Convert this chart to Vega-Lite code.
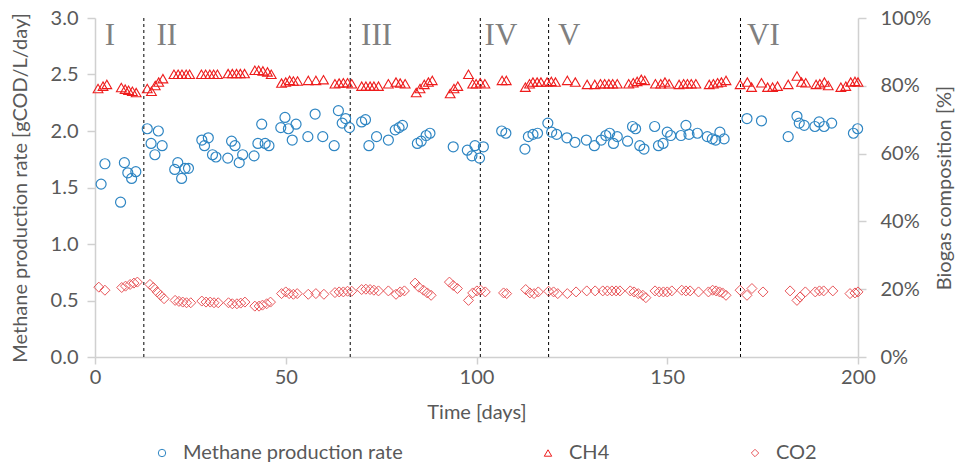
{
 "$schema": "https://vega.github.io/schema/vega-lite/v6.json",
 "width": 763,
 "height": 339,
 "autosize": "none",
 "padding": {"left": 95, "top": 18, "right": 98, "bottom": 108},
 "background": "white",
 "config": {
  "view": {"stroke": null},
  "font": "Lato",
  "axis": {"grid": false, "domainColor": "#d0d0d0", "tickColor": "#d0d0d0", "domainWidth": 1.5, "tickWidth": 1.5, "tickSize": 8, "labelColor": "#595959", "titleColor": "#595959", "labelFont": "Lato", "titleFont": "Lato", "labelFontSize": 20, "titleFontSize": 20, "titleFontWeight": "normal", "labelFlush": false, "labelOverlap": false}
 },
 "datasets": {
  "methane": [
   {"s":"Methane production rate","d":1.6,"v":1.53},{"s":"Methane production rate","d":2.6,"v":1.71},{"s":"Methane production rate","d":6.7,"v":1.37},{"s":"Methane production rate","d":7.7,"v":1.72},{"s":"Methane production rate","d":8.6,"v":1.63},{"s":"Methane production rate","d":9.6,"v":1.58},{"s":"Methane production rate","d":10.7,"v":1.64},
   {"s":"Methane production rate","d":13.7,"v":2.02},{"s":"Methane production rate","d":14.7,"v":1.89},{"s":"Methane production rate","d":15.7,"v":1.79},{"s":"Methane production rate","d":16.6,"v":2.0},{"s":"Methane production rate","d":17.6,"v":1.87},
   {"s":"Methane production rate","d":20.9,"v":1.66},{"s":"Methane production rate","d":21.7,"v":1.72},{"s":"Methane production rate","d":22.7,"v":1.58},{"s":"Methane production rate","d":23.6,"v":1.67},{"s":"Methane production rate","d":24.5,"v":1.67},
   {"s":"Methane production rate","d":28.0,"v":1.92},{"s":"Methane production rate","d":28.7,"v":1.87},{"s":"Methane production rate","d":29.7,"v":1.94},{"s":"Methane production rate","d":30.8,"v":1.79},{"s":"Methane production rate","d":31.7,"v":1.77},
   {"s":"Methane production rate","d":34.8,"v":1.76},{"s":"Methane production rate","d":35.8,"v":1.91},{"s":"Methane production rate","d":36.7,"v":1.87},{"s":"Methane production rate","d":37.8,"v":1.72},{"s":"Methane production rate","d":38.7,"v":1.79},
   {"s":"Methane production rate","d":41.7,"v":1.78},{"s":"Methane production rate","d":42.7,"v":1.89},{"s":"Methane production rate","d":43.7,"v":2.06},{"s":"Methane production rate","d":44.6,"v":1.89},{"s":"Methane production rate","d":45.6,"v":1.87},
   {"s":"Methane production rate","d":48.7,"v":2.03},{"s":"Methane production rate","d":49.8,"v":2.12},{"s":"Methane production rate","d":50.7,"v":2.02},{"s":"Methane production rate","d":51.7,"v":1.92},{"s":"Methane production rate","d":52.7,"v":2.06},
   {"s":"Methane production rate","d":55.8,"v":1.95},{"s":"Methane production rate","d":57.7,"v":2.15},{"s":"Methane production rate","d":59.7,"v":1.95},{"s":"Methane production rate","d":62.7,"v":1.87},{"s":"Methane production rate","d":63.8,"v":2.18},{"s":"Methane production rate","d":64.8,"v":2.07},{"s":"Methane production rate","d":65.7,"v":2.11},{"s":"Methane production rate","d":66.7,"v":2.03},
   {"s":"Methane production rate","d":69.9,"v":2.08},{"s":"Methane production rate","d":70.9,"v":2.1},{"s":"Methane production rate","d":71.8,"v":1.87},{"s":"Methane production rate","d":73.8,"v":1.95},{"s":"Methane production rate","d":76.9,"v":1.92},{"s":"Methane production rate","d":78.7,"v":2.01},{"s":"Methane production rate","d":79.7,"v":2.03},{"s":"Methane production rate","d":80.6,"v":2.05},
   {"s":"Methane production rate","d":84.5,"v":1.89},{"s":"Methane production rate","d":85.5,"v":1.91},{"s":"Methane production rate","d":86.8,"v":1.96},{"s":"Methane production rate","d":87.8,"v":1.98},
   {"s":"Methane production rate","d":93.9,"v":1.86},{"s":"Methane production rate","d":97.6,"v":1.83},{"s":"Methane production rate","d":98.8,"v":1.78},{"s":"Methane production rate","d":99.6,"v":1.87},{"s":"Methane production rate","d":100.8,"v":1.76},{"s":"Methane production rate","d":101.8,"v":1.86},
   {"s":"Methane production rate","d":106.6,"v":2.0},{"s":"Methane production rate","d":107.7,"v":1.98},{"s":"Methane production rate","d":112.7,"v":1.84},{"s":"Methane production rate","d":113.6,"v":1.95},{"s":"Methane production rate","d":114.8,"v":1.97},{"s":"Methane production rate","d":116.0,"v":1.98},
   {"s":"Methane production rate","d":118.7,"v":2.07},{"s":"Methane production rate","d":119.7,"v":1.99},{"s":"Methane production rate","d":121.0,"v":1.97},{"s":"Methane production rate","d":123.7,"v":1.94},{"s":"Methane production rate","d":125.8,"v":1.9},{"s":"Methane production rate","d":128.8,"v":1.92},{"s":"Methane production rate","d":130.9,"v":1.87},
   {"s":"Methane production rate","d":132.7,"v":1.92},{"s":"Methane production rate","d":133.9,"v":1.96},{"s":"Methane production rate","d":134.9,"v":1.98},{"s":"Methane production rate","d":135.9,"v":1.89},{"s":"Methane production rate","d":136.9,"v":1.95},
   {"s":"Methane production rate","d":139.6,"v":1.91},{"s":"Methane production rate","d":140.9,"v":2.04},{"s":"Methane production rate","d":141.7,"v":2.02},{"s":"Methane production rate","d":142.8,"v":1.87},{"s":"Methane production rate","d":143.9,"v":1.84},
   {"s":"Methane production rate","d":146.7,"v":2.04},{"s":"Methane production rate","d":147.7,"v":1.87},{"s":"Methane production rate","d":148.9,"v":1.89},{"s":"Methane production rate","d":150.0,"v":1.99},{"s":"Methane production rate","d":150.9,"v":1.96},
   {"s":"Methane production rate","d":153.6,"v":1.96},{"s":"Methane production rate","d":154.9,"v":2.05},{"s":"Methane production rate","d":155.7,"v":1.97},{"s":"Methane production rate","d":157.9,"v":1.98},
   {"s":"Methane production rate","d":160.5,"v":1.95},{"s":"Methane production rate","d":161.8,"v":1.93},{"s":"Methane production rate","d":162.7,"v":1.92},{"s":"Methane production rate","d":163.8,"v":1.99},{"s":"Methane production rate","d":164.9,"v":1.93},
   {"s":"Methane production rate","d":170.9,"v":2.11},{"s":"Methane production rate","d":174.7,"v":2.09},{"s":"Methane production rate","d":181.7,"v":1.95},{"s":"Methane production rate","d":184.0,"v":2.13},{"s":"Methane production rate","d":184.6,"v":2.07},{"s":"Methane production rate","d":185.9,"v":2.05},
   {"s":"Methane production rate","d":188.7,"v":2.04},{"s":"Methane production rate","d":189.8,"v":2.08},{"s":"Methane production rate","d":191.1,"v":2.04},{"s":"Methane production rate","d":193.1,"v":2.07},{"s":"Methane production rate","d":198.8,"v":1.98},{"s":"Methane production rate","d":199.9,"v":2.02}
  ],
  "ch4": [
   {"s":"CH4","d":0.8,"v":79.2},{"s":"CH4","d":2.1,"v":79.9},{"s":"CH4","d":3.1,"v":80.4},{"s":"CH4","d":6.9,"v":79.5},{"s":"CH4","d":7.9,"v":79.0},{"s":"CH4","d":8.8,"v":78.7},{"s":"CH4","d":9.8,"v":78.4},{"s":"CH4","d":10.8,"v":78.0},
   {"s":"CH4","d":13.7,"v":79.2},{"s":"CH4","d":14.8,"v":78.4},{"s":"CH4","d":15.8,"v":80.1},{"s":"CH4","d":16.7,"v":81.1},{"s":"CH4","d":17.8,"v":82.1},
   {"s":"CH4","d":20.7,"v":83.4},{"s":"CH4","d":21.8,"v":83.4},{"s":"CH4","d":22.8,"v":83.4},{"s":"CH4","d":23.9,"v":83.4},{"s":"CH4","d":24.8,"v":83.4},
   {"s":"CH4","d":27.9,"v":83.4},{"s":"CH4","d":29.0,"v":83.4},{"s":"CH4","d":30.1,"v":83.4},{"s":"CH4","d":31.1,"v":83.4},{"s":"CH4","d":32.1,"v":83.4},
   {"s":"CH4","d":34.9,"v":83.6},{"s":"CH4","d":36.0,"v":83.6},{"s":"CH4","d":37.1,"v":83.6},{"s":"CH4","d":38.1,"v":83.6},{"s":"CH4","d":39.2,"v":83.6},
   {"s":"CH4","d":41.9,"v":84.6},{"s":"CH4","d":42.9,"v":84.6},{"s":"CH4","d":44.0,"v":84.4},{"s":"CH4","d":45.2,"v":84.1},{"s":"CH4","d":46.2,"v":83.4},
   {"s":"CH4","d":48.9,"v":80.8},{"s":"CH4","d":50.0,"v":81.1},{"s":"CH4","d":51.0,"v":81.6},{"s":"CH4","d":52.0,"v":81.4},{"s":"CH4","d":53.1,"v":81.4},
   {"s":"CH4","d":55.9,"v":81.6},{"s":"CH4","d":57.9,"v":81.6},{"s":"CH4","d":59.9,"v":81.8},
   {"s":"CH4","d":62.9,"v":80.6},{"s":"CH4","d":64.0,"v":80.8},{"s":"CH4","d":65.1,"v":80.9},{"s":"CH4","d":66.2,"v":80.9},{"s":"CH4","d":67.3,"v":80.6},
   {"s":"CH4","d":69.9,"v":79.9},{"s":"CH4","d":71.0,"v":79.9},{"s":"CH4","d":72.1,"v":79.9},{"s":"CH4","d":73.1,"v":79.9},{"s":"CH4","d":74.3,"v":79.9},
   {"s":"CH4","d":76.9,"v":80.6},{"s":"CH4","d":78.9,"v":81.1},{"s":"CH4","d":80.0,"v":80.8},{"s":"CH4","d":81.3,"v":80.6},
   {"s":"CH4","d":84.2,"v":78.0},{"s":"CH4","d":85.2,"v":79.2},{"s":"CH4","d":86.3,"v":80.4},{"s":"CH4","d":87.4,"v":81.1},{"s":"CH4","d":88.4,"v":81.6},
   {"s":"CH4","d":93.1,"v":77.7},{"s":"CH4","d":94.1,"v":79.2},{"s":"CH4","d":95.1,"v":79.9},{"s":"CH4","d":97.9,"v":83.4},{"s":"CH4","d":99.0,"v":80.6},
   {"s":"CH4","d":99.9,"v":80.6},{"s":"CH4","d":101.0,"v":80.9},{"s":"CH4","d":102.2,"v":80.6},{"s":"CH4","d":106.7,"v":81.6},{"s":"CH4","d":107.8,"v":81.6},
   {"s":"CH4","d":112.8,"v":79.6},{"s":"CH4","d":113.9,"v":80.6},{"s":"CH4","d":114.8,"v":81.1},{"s":"CH4","d":115.9,"v":81.1},{"s":"CH4","d":116.9,"v":81.1},
   {"s":"CH4","d":118.5,"v":81.1},{"s":"CH4","d":119.6,"v":81.3},{"s":"CH4","d":120.7,"v":81.1},{"s":"CH4","d":123.8,"v":81.6},{"s":"CH4","d":125.9,"v":81.1},
   {"s":"CH4","d":129.0,"v":80.4},{"s":"CH4","d":131.0,"v":80.4},{"s":"CH4","d":132.5,"v":80.6},{"s":"CH4","d":133.6,"v":80.6},{"s":"CH4","d":134.7,"v":80.6},{"s":"CH4","d":135.7,"v":80.6},{"s":"CH4","d":136.9,"v":80.6},
   {"s":"CH4","d":139.9,"v":80.6},{"s":"CH4","d":141.1,"v":80.9},{"s":"CH4","d":142.1,"v":81.3},{"s":"CH4","d":143.2,"v":81.9},{"s":"CH4","d":144.1,"v":81.6},
   {"s":"CH4","d":146.9,"v":80.6},{"s":"CH4","d":148.3,"v":80.6},{"s":"CH4","d":149.4,"v":81.1},{"s":"CH4","d":150.5,"v":80.6},
   {"s":"CH4","d":153.1,"v":80.4},{"s":"CH4","d":154.3,"v":80.6},{"s":"CH4","d":155.3,"v":80.6},{"s":"CH4","d":156.3,"v":80.6},{"s":"CH4","d":157.5,"v":80.6},
   {"s":"CH4","d":161.0,"v":80.4},{"s":"CH4","d":162.1,"v":80.6},{"s":"CH4","d":163.2,"v":80.9},{"s":"CH4","d":164.2,"v":81.1},{"s":"CH4","d":165.4,"v":81.6},
   {"s":"CH4","d":169.1,"v":80.4},{"s":"CH4","d":171.0,"v":81.1},{"s":"CH4","d":172.1,"v":79.6},{"s":"CH4","d":174.7,"v":80.9},{"s":"CH4","d":176.3,"v":79.6},{"s":"CH4","d":177.6,"v":79.6},{"s":"CH4","d":178.9,"v":79.9},
   {"s":"CH4","d":181.7,"v":80.4},{"s":"CH4","d":184.0,"v":82.9},{"s":"CH4","d":185.2,"v":81.1},{"s":"CH4","d":186.3,"v":80.9},
   {"s":"CH4","d":189.0,"v":80.4},{"s":"CH4","d":190.0,"v":80.6},{"s":"CH4","d":191.2,"v":81.1},{"s":"CH4","d":192.2,"v":80.1},
   {"s":"CH4","d":195.5,"v":79.6},{"s":"CH4","d":196.8,"v":79.9},{"s":"CH4","d":198.1,"v":81.1},{"s":"CH4","d":199.2,"v":81.3},{"s":"CH4","d":200.0,"v":81.1}
  ],
  "co2": [
   {"s":"CO2","d":1.0,"v":20.6},{"s":"CO2","d":2.6,"v":19.7},{"s":"CO2","d":7.0,"v":20.5},{"s":"CO2","d":8.0,"v":20.9},{"s":"CO2","d":9.2,"v":21.4},{"s":"CO2","d":10.2,"v":21.8},{"s":"CO2","d":11.1,"v":22.1},
   {"s":"CO2","d":14.4,"v":21.4},{"s":"CO2","d":15.3,"v":20.5},{"s":"CO2","d":16.3,"v":19.2},{"s":"CO2","d":17.2,"v":18.2},{"s":"CO2","d":18.1,"v":17.2},
   {"s":"CO2","d":21.0,"v":16.7},{"s":"CO2","d":22.0,"v":16.4},{"s":"CO2","d":23.0,"v":16.2},{"s":"CO2","d":24.0,"v":16.0},{"s":"CO2","d":25.1,"v":16.0},
   {"s":"CO2","d":28.0,"v":16.5},{"s":"CO2","d":29.1,"v":16.2},{"s":"CO2","d":30.2,"v":16.2},{"s":"CO2","d":31.2,"v":16.0},{"s":"CO2","d":32.3,"v":16.0},
   {"s":"CO2","d":35.0,"v":16.0},{"s":"CO2","d":36.0,"v":15.7},{"s":"CO2","d":37.2,"v":15.7},{"s":"CO2","d":38.2,"v":15.9},{"s":"CO2","d":39.3,"v":16.2},
   {"s":"CO2","d":41.9,"v":15.0},{"s":"CO2","d":43.0,"v":15.0},{"s":"CO2","d":43.9,"v":15.3},{"s":"CO2","d":45.0,"v":15.7},{"s":"CO2","d":46.0,"v":16.2},
   {"s":"CO2","d":48.9,"v":18.7},{"s":"CO2","d":50.0,"v":19.2},{"s":"CO2","d":50.9,"v":18.7},{"s":"CO2","d":52.0,"v":18.5},{"s":"CO2","d":53.0,"v":18.7},
   {"s":"CO2","d":55.9,"v":18.5},{"s":"CO2","d":57.9,"v":18.7},{"s":"CO2","d":60.0,"v":18.5},
   {"s":"CO2","d":62.9,"v":19.0},{"s":"CO2","d":64.0,"v":19.2},{"s":"CO2","d":65.1,"v":19.2},{"s":"CO2","d":66.2,"v":19.4},{"s":"CO2","d":67.3,"v":19.4},
   {"s":"CO2","d":69.9,"v":19.9},{"s":"CO2","d":71.0,"v":20.0},{"s":"CO2","d":72.1,"v":19.9},{"s":"CO2","d":73.1,"v":19.7},{"s":"CO2","d":74.3,"v":19.5},
   {"s":"CO2","d":76.9,"v":19.5},{"s":"CO2","d":78.9,"v":18.5},{"s":"CO2","d":80.0,"v":19.2},{"s":"CO2","d":81.1,"v":19.5},
   {"s":"CO2","d":83.9,"v":21.8},{"s":"CO2","d":84.9,"v":20.6},{"s":"CO2","d":86.1,"v":19.7},{"s":"CO2","d":87.1,"v":18.9},{"s":"CO2","d":88.1,"v":18.2},
   {"s":"CO2","d":92.9,"v":22.1},{"s":"CO2","d":93.9,"v":21.1},{"s":"CO2","d":95.0,"v":20.2},{"s":"CO2","d":97.9,"v":16.7},{"s":"CO2","d":99.0,"v":18.9},
   {"s":"CO2","d":100.1,"v":19.5},{"s":"CO2","d":101.1,"v":19.7},{"s":"CO2","d":102.3,"v":19.2},{"s":"CO2","d":107.1,"v":18.9},{"s":"CO2","d":107.9,"v":18.7},
   {"s":"CO2","d":112.9,"v":19.9},{"s":"CO2","d":114.0,"v":18.9},{"s":"CO2","d":115.1,"v":18.7},{"s":"CO2","d":116.2,"v":19.2},
   {"s":"CO2","d":118.9,"v":19.4},{"s":"CO2","d":120.2,"v":19.2},{"s":"CO2","d":121.3,"v":18.7},{"s":"CO2","d":123.8,"v":18.7},{"s":"CO2","d":126.1,"v":19.2},
   {"s":"CO2","d":128.9,"v":19.5},{"s":"CO2","d":131.1,"v":19.5},{"s":"CO2","d":133.1,"v":19.5},{"s":"CO2","d":134.3,"v":19.5},{"s":"CO2","d":135.5,"v":19.5},{"s":"CO2","d":136.6,"v":19.5},{"s":"CO2","d":137.6,"v":19.5},
   {"s":"CO2","d":140.3,"v":19.5},{"s":"CO2","d":141.3,"v":19.2},{"s":"CO2","d":142.4,"v":18.7},{"s":"CO2","d":143.6,"v":18.2},{"s":"CO2","d":144.4,"v":17.5},
   {"s":"CO2","d":146.8,"v":19.5},{"s":"CO2","d":147.9,"v":19.2},{"s":"CO2","d":149.0,"v":19.2},{"s":"CO2","d":150.0,"v":19.2},{"s":"CO2","d":151.2,"v":19.5},
   {"s":"CO2","d":153.8,"v":19.7},{"s":"CO2","d":154.9,"v":19.5},{"s":"CO2","d":156.0,"v":19.5},{"s":"CO2","d":158.2,"v":19.2},
   {"s":"CO2","d":160.8,"v":19.2},{"s":"CO2","d":161.9,"v":19.7},{"s":"CO2","d":162.8,"v":19.5},{"s":"CO2","d":163.7,"v":19.2},{"s":"CO2","d":164.5,"v":18.9},{"s":"CO2","d":165.4,"v":18.2},
   {"s":"CO2","d":169.1,"v":19.7},{"s":"CO2","d":170.9,"v":18.2},{"s":"CO2","d":172.2,"v":20.2},{"s":"CO2","d":175.1,"v":19.2},
   {"s":"CO2","d":182.2,"v":19.5},{"s":"CO2","d":184.0,"v":16.7},{"s":"CO2","d":184.8,"v":17.7},{"s":"CO2","d":186.2,"v":19.2},
   {"s":"CO2","d":188.8,"v":19.2},{"s":"CO2","d":189.9,"v":19.5},{"s":"CO2","d":191.0,"v":19.5},{"s":"CO2","d":193.4,"v":19.5},
   {"s":"CO2","d":197.9,"v":18.7},{"s":"CO2","d":199.2,"v":18.9},{"s":"CO2","d":200.0,"v":19.2}
  ],
  "phases": [{"d":12.8},{"d":66.9},{"d":101.0},{"d":118.9},{"d":169.2}],
  "labels": [{"t":"I","d":3.9,"v":2.84},{"t":"II","d":18.8,"v":2.84},{"t":"III","d":73.8,"v":2.84},{"t":"IV","d":106.4,"v":2.84},{"t":"V","d":124.3,"v":2.84},{"t":"VI","d":175.2,"v":2.84}]
 },
 "layer": [
  {
   "layer": [
    {
     "data": {"name": "phases"},
     "mark": {"type": "rule", "color": "#000000", "strokeWidth": 1, "strokeDash": [3, 3]},
     "encoding": {"x": {"field": "d", "type": "quantitative", "scale": {"domain": [0, 200], "nice": false}}}
    },
    {
     "data": {"name": "methane"},
     "mark": {"type": "point", "filled": false, "size": 100, "strokeWidth": 1.2, "opacity": 1},
     "encoding": {
      "x": {"field": "d", "type": "quantitative", "scale": {"domain": [0, 200], "nice": false}, "axis": {"values": [0, 50, 100, 150, 200], "title": "Time [days]", "labelPadding": 3, "tickSize": 7, "titlePadding": 15}},
      "y": {"field": "v", "type": "quantitative", "scale": {"domain": [0, 3], "nice": false}, "axis": {"values": [0, 0.5, 1, 1.5, 2, 2.5, 3], "format": ".1f", "title": "Methane production rate [gCOD/L/day]", "labelPadding": 9, "titlePadding": 20}},
      "color": {"field": "s", "type": "nominal", "scale": {"domain": ["Methane production rate", "CH4", "CO2"], "range": ["#2f86c3", "#ee1c1c", "#e8565a"]}, "legend": {"title": null, "orient": "none", "legendX": 57, "legendY": 425, "direction": "horizontal", "columns": 3, "columnPadding": 135, "padding": 0, "labelFont": "Lato", "labelFontSize": 20, "labelColor": "#595959", "labelLimit": 0, "symbolSize": 55, "symbolStrokeWidth": 1, "labelOffset": 11}},
      "shape": {"field": "s", "type": "nominal", "scale": {"domain": ["Methane production rate", "CH4", "CO2"], "range": ["circle", "triangle-up", "diamond"]}}
     }
    },
    {
     "data": {"name": "labels"},
     "mark": {"type": "text", "font": "Liberation Serif", "fontSize": 31, "color": "#808080", "align": "center", "baseline": "middle"},
     "encoding": {
      "x": {"field": "d", "type": "quantitative"},
      "y": {"field": "v", "type": "quantitative"},
      "text": {"field": "t"}
     }
    }
   ]
  },
  {
   "layer": [
    {
     "data": {"name": "co2"},
     "mark": {"type": "point", "filled": false, "size": 100, "strokeWidth": 1, "opacity": 1},
     "encoding": {
      "x": {"field": "d", "type": "quantitative"},
      "y": {"field": "v", "type": "quantitative", "scale": {"domain": [0, 100], "nice": false}, "axis": {"orient": "right", "values": [0, 20, 40, 60, 80, 100], "labelExpr": "datum.value + '%'", "title": "Biogas composition [%]", "titleAngle": 270, "labelPadding": 14, "titlePadding": 24}},
      "color": {"field": "s", "type": "nominal"},
      "shape": {"field": "s", "type": "nominal"}
     }
    },
    {
     "data": {"name": "ch4"},
     "mark": {"type": "point", "filled": false, "size": 95, "strokeWidth": 1.1, "opacity": 1},
     "encoding": {
      "x": {"field": "d", "type": "quantitative"},
      "y": {"field": "v", "type": "quantitative"},
      "color": {"field": "s", "type": "nominal"},
      "shape": {"field": "s", "type": "nominal"}
     }
    }
   ]
  }
 ],
 "resolve": {"scale": {"y": "independent"}}
}
